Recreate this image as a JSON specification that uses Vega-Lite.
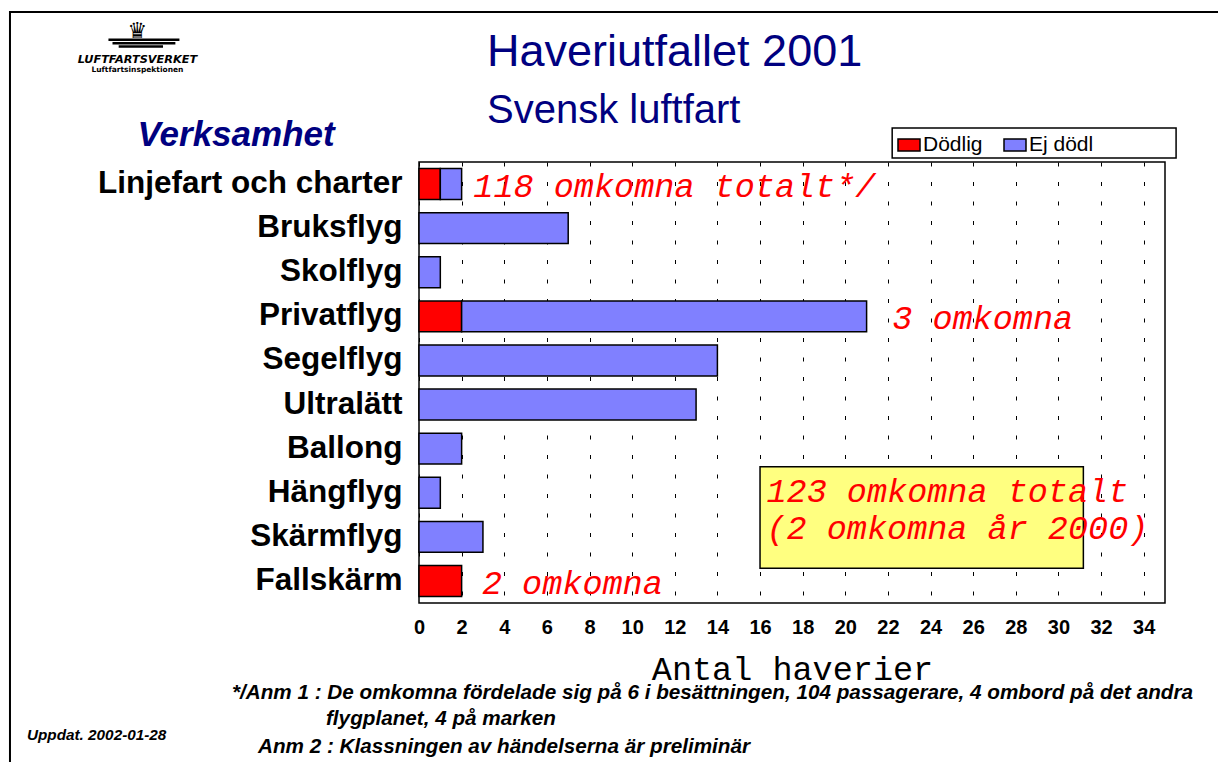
{
  "$schema": "https://vega.github.io/schema/vega-lite/v6.json",
  "width": 746,
  "height": 441,
  "autosize": {"type": "none"},
  "padding": {"left": 419, "top": 162, "right": 53, "bottom": 159},
  "background": "white",
  "config": {
    "view": {"stroke": "black", "strokeWidth": 1.5},
    "font": "Liberation Sans"
  },
  "title": {
    "text": "Haveriutfallet 2001",
    "subtitle": "Svensk luftfart",
    "anchor": "start",
    "frame": "group",
    "dx": 68,
    "offset": -120,
    "font": "Liberation Sans",
    "fontSize": 45,
    "fontWeight": "normal",
    "color": "#000080",
    "subtitleFont": "Liberation Sans",
    "subtitleFontSize": 40,
    "subtitleColor": "#000080",
    "subtitlePadding": 16
  },
  "resolve": {"scale": {"y": "independent"}},
  "layer": [
    {
      "data": {"values": [{}]},
      "layer": [
        {
          "mark": {"type": "rect", "fill": "white", "stroke": "black", "strokeWidth": 1.5},
          "encoding": {
            "x": {"datum": 22.2, "type": "quantitative"},
            "x2": {"datum": 35.52},
            "y": {"datum": 10.77, "type": "quantitative", "scale": {"domain": [0, 10], "nice": false, "zero": false}, "axis": null},
            "y2": {"datum": 10.09}
          }
        },
        {
          "mark": {"type": "rect", "fill": "#FFFF80", "stroke": "black", "strokeWidth": 1.5},
          "encoding": {
            "x": {"datum": 16.0, "type": "quantitative"},
            "x2": {"datum": 31.17},
            "y": {"datum": 3.09, "type": "quantitative", "axis": null},
            "y2": {"datum": 0.787}
          }
        },
        {
          "data": {"values": [{"t": "123 omkomna totalt", "v": 2.297}, {"t": "(2 omkomna år 2000)", "v": 1.45}]},
          "mark": {"type": "text", "font": "Liberation Mono", "fontStyle": "italic", "fontSize": 33.5, "color": "#FF0000", "align": "left", "baseline": "alphabetic"},
          "encoding": {
            "text": {"field": "t"},
            "x": {"datum": 16.3, "type": "quantitative"},
            "y": {"field": "v", "type": "quantitative", "axis": null}
          }
        },
        {
          "mark": {"type": "text", "font": "Liberation Sans", "fontStyle": "italic", "fontWeight": "bold", "fontSize": 20.7, "color": "black", "align": "left", "baseline": "alphabetic", "text": "*/Anm 1 : De omkomna fördelade sig på 6 i besättningen, 104 passagerare, 4 ombord på det andra"},
          "encoding": {
            "x": {"datum": -8.775, "type": "quantitative"},
            "y": {"datum": -2.177, "type": "quantitative", "axis": null}
          }
        },
        {
          "mark": {"type": "text", "font": "Liberation Sans", "fontStyle": "italic", "fontWeight": "bold", "fontSize": 20.7, "color": "black", "align": "left", "baseline": "alphabetic", "text": "flygplanet, 4 på marken"},
          "encoding": {
            "x": {"datum": -4.364, "type": "quantitative"},
            "y": {"datum": -2.766, "type": "quantitative", "axis": null}
          }
        },
        {
          "mark": {"type": "text", "font": "Liberation Sans", "fontStyle": "italic", "fontWeight": "bold", "fontSize": 20.7, "color": "black", "align": "left", "baseline": "alphabetic", "text": "Anm 2 : Klassningen av händelserna är preliminär"},
          "encoding": {
            "x": {"datum": -7.555, "type": "quantitative"},
            "y": {"datum": -3.401, "type": "quantitative", "axis": null}
          }
        },
        {
          "mark": {"type": "text", "font": "Liberation Sans", "fontStyle": "italic", "fontWeight": "bold", "fontSize": 15.3, "color": "black", "align": "left", "baseline": "alphabetic", "text": "Uppdat. 2002-01-28"},
          "encoding": {
            "x": {"datum": -18.395, "type": "quantitative"},
            "y": {"datum": -3.107, "type": "quantitative", "axis": null}
          }
        },
        {
          "mark": {"type": "text", "font": "DejaVu Sans", "fontStyle": "italic", "fontWeight": "bold", "fontSize": 11.3, "color": "black", "align": "center", "baseline": "alphabetic", "text": "LUFTFARTSVERKET"},
          "encoding": {
            "x": {"datum": -13.21, "type": "quantitative"},
            "y": {"datum": 12.245, "type": "quantitative", "axis": null}
          }
        },
        {
          "mark": {"type": "text", "font": "DejaVu Sans", "fontWeight": "bold", "fontSize": 7.5, "color": "black", "align": "center", "baseline": "alphabetic", "text": "Luftfartsinspektionen"},
          "encoding": {
            "x": {"datum": -13.21, "type": "quantitative"},
            "y": {"datum": 12.04, "type": "quantitative", "axis": null}
          }
        },
        {
          "mark": {"type": "text", "font": "DejaVu Sans", "fontSize": 22, "color": "black", "align": "center", "baseline": "alphabetic", "text": "♛"},
          "encoding": {
            "x": {"datum": -13.21, "type": "quantitative"},
            "y": {"datum": 12.82, "type": "quantitative", "axis": null}
          }
        },
        {
          "mark": {"type": "rule", "color": "black", "strokeWidth": 2.5},
          "encoding": {
            "x": {"datum": -14.57, "type": "quantitative"},
            "x2": {"datum": -11.24},
            "y": {"datum": 12.77, "type": "quantitative", "axis": null}
          }
        },
        {
          "mark": {"type": "rule", "color": "black", "strokeWidth": 2.5},
          "encoding": {
            "x": {"datum": -14.38, "type": "quantitative"},
            "x2": {"datum": -11.43},
            "y": {"datum": 12.695, "type": "quantitative", "axis": null}
          }
        },
        {
          "mark": {"type": "rule", "color": "black", "strokeWidth": 2.5},
          "encoding": {
            "x": {"datum": -14.09, "type": "quantitative"},
            "x2": {"datum": -12.01},
            "y": {"datum": 12.62, "type": "quantitative", "axis": null}
          }
        },
        {
          "mark": {"type": "rect", "fill": "transparent", "stroke": "black", "strokeWidth": 2},
          "encoding": {
            "x": {"datum": -19.19, "type": "quantitative"},
            "x2": {"datum": 60},
            "y": {"datum": 13.4, "type": "quantitative", "axis": null},
            "y2": {"datum": -10}
          }
        }
      ]
    },
    {
      "data": {
        "values": [
          {"cat": "Linjefart och charter", "type": "Dödlig", "n": 1},
          {"cat": "Linjefart och charter", "type": "Ej dödl", "n": 1},
          {"cat": "Bruksflyg", "type": "Ej dödl", "n": 7},
          {"cat": "Skolflyg", "type": "Ej dödl", "n": 1},
          {"cat": "Privatflyg", "type": "Dödlig", "n": 2},
          {"cat": "Privatflyg", "type": "Ej dödl", "n": 19},
          {"cat": "Segelflyg", "type": "Ej dödl", "n": 14},
          {"cat": "Ultralätt", "type": "Ej dödl", "n": 13},
          {"cat": "Ballong", "type": "Ej dödl", "n": 2},
          {"cat": "Hängflyg", "type": "Ej dödl", "n": 1},
          {"cat": "Skärmflyg", "type": "Ej dödl", "n": 3},
          {"cat": "Fallskärm", "type": "Dödlig", "n": 2}
        ]
      },
      "layer": [
        {
          "mark": {"type": "bar", "stroke": "black", "strokeWidth": 1.5},
          "encoding": {
            "y": {
              "field": "cat",
              "type": "nominal",
              "scale": {
                "domain": ["Linjefart och charter", "Bruksflyg", "Skolflyg", "Privatflyg", "Segelflyg", "Ultralätt", "Ballong", "Hängflyg", "Skärmflyg", "Fallskärm"],
                "paddingInner": 0.3,
                "paddingOuter": 0.15
              },
              "axis": {
                "title": "Verksamhet",
                "titleAngle": 0,
                "titleAlign": "left",
                "titleBaseline": "alphabetic",
                "titleX": -282,
                "titleY": -17,
                "titleFont": "Liberation Sans",
                "titleFontSize": 35,
                "titleFontStyle": "italic",
                "titleFontWeight": "bold",
                "titleColor": "#000080",
                "labelFont": "Liberation Sans",
                "labelFontSize": 31.5,
                "labelFontWeight": "bold",
                "labelColor": "black",
                "labelPadding": 17,
                "labelLimit": 400,
                "ticks": false,
                "domain": false
              }
            },
            "x": {
              "field": "n",
              "type": "quantitative",
              "stack": "zero",
              "scale": {"domain": [0, 35], "nice": false},
              "axis": {
                "values": [0, 2, 4, 6, 8, 10, 12, 14, 16, 18, 20, 22, 24, 26, 28, 30, 32, 34],
                "title": "Antal haverier",
                "titleFont": "Liberation Mono",
                "titleFontSize": 33.5,
                "titleFontWeight": "normal",
                "titleColor": "black",
                "titleBaseline": "alphabetic",
                "titleY": 76,
                "titleX": 373,
                "labelFont": "Liberation Sans Narrow, Liberation Sans",
                "labelFontSize": 20,
                "labelFontWeight": "bold",
                "labelColor": "black",
                "labelPadding": 14,
                "labelFlush": false,
                "ticks": false,
                "domain": false,
                "grid": true,
                "gridColor": "black",
                "gridOpacity": 1,
                "gridWidth": 1,
                "gridDash": [4, 15.5]
              }
            },
            "color": {
              "field": "type",
              "type": "nominal",
              "scale": {"domain": ["Dödlig", "Ej dödl"], "range": ["#FF0000", "#8080FF"]},
              "legend": {
                "title": null,
                "orient": "none",
                "legendX": 473,
                "legendY": -34,
                "direction": "horizontal",
                "symbolType": "M-1,-0.55H1V0.55H-1Z",
                "symbolSize": 484,
                "symbolStrokeColor": "black",
                "symbolStrokeWidth": 1.5,
                "labelFont": "Liberation Sans",
                "labelFontSize": 21,
                "labelColor": "black",
                "labelOffset": 2,
                "columnPadding": 18,
                "padding": 5
              }
            },
            "order": {"field": "type", "sort": "ascending"}
          }
        },
        {
          "data": {"values": [{"t": "118 omkomna totalt*/"}]},
          "mark": {"type": "text", "font": "Liberation Mono", "fontStyle": "italic", "fontSize": 33.5, "color": "#FF0000", "align": "left", "baseline": "alphabetic", "dy": 13},
          "encoding": {
            "text": {"field": "t"},
            "x": {"datum": 2.55, "type": "quantitative"},
            "y": {"datum": "Linjefart och charter", "type": "nominal"}
          }
        },
        {
          "data": {"values": [{"t": "3 omkomna"}]},
          "mark": {"type": "text", "font": "Liberation Mono", "fontStyle": "italic", "fontSize": 33.5, "color": "#FF0000", "align": "left", "baseline": "alphabetic", "dy": 13},
          "encoding": {
            "text": {"field": "t"},
            "x": {"datum": 22.2, "type": "quantitative"},
            "y": {"datum": "Privatflyg", "type": "nominal"}
          }
        },
        {
          "data": {"values": [{"t": "2 omkomna"}]},
          "mark": {"type": "text", "font": "Liberation Mono", "fontStyle": "italic", "fontSize": 33.5, "color": "#FF0000", "align": "left", "baseline": "alphabetic", "dy": 13},
          "encoding": {
            "text": {"field": "t"},
            "x": {"datum": 2.95, "type": "quantitative"},
            "y": {"datum": "Fallskärm", "type": "nominal"}
          }
        }
      ]
    }
  ]
}
